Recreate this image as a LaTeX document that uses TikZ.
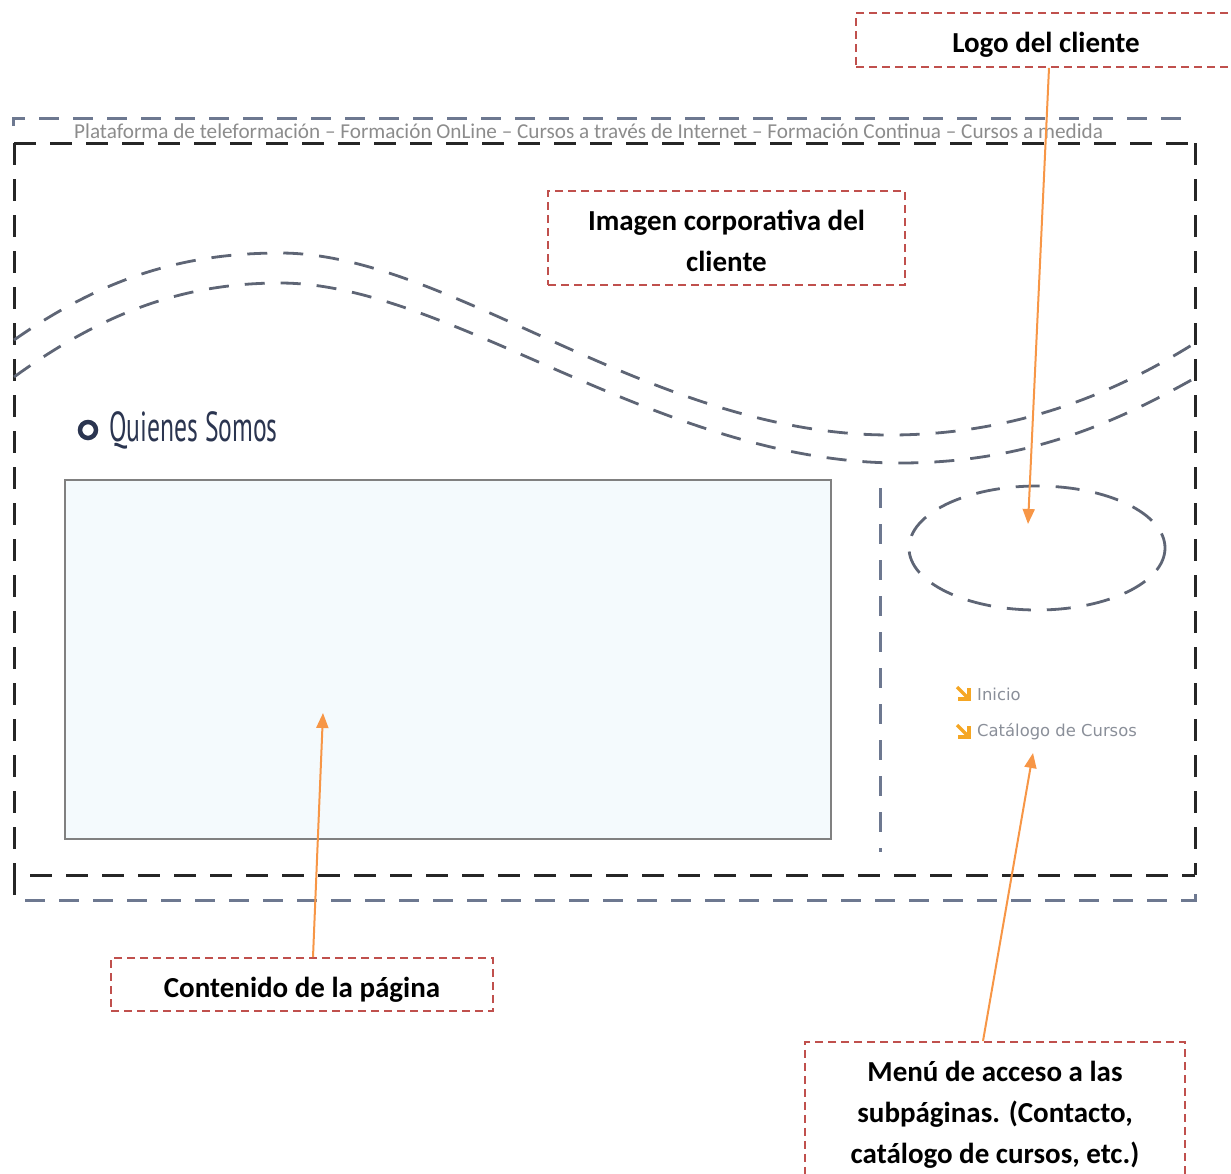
\documentclass[tikz,border=0pt]{standalone}
\usepackage{fontspec}
\setmainfont{Carlito}
\newfontfamily\qfont{PT Sans}
\newfontfamily\menufont{DejaVu Sans}
\usetikzlibrary{arrows.meta}
\definecolor{callred}{HTML}{C0504D}
\definecolor{callorange}{HTML}{F79646}
\definecolor{wavegray}{HTML}{5E6575}
\definecolor{framegray}{HTML}{6D7890}
\definecolor{boxfill}{HTML}{F4FAFD}
\definecolor{navy}{HTML}{2B3550}
\definecolor{headgray}{HTML}{8C8C8C}
\definecolor{menugray}{HTML}{8A8F99}
\definecolor{iconorange}{HTML}{F5A623}
\newcommand{\calltext}[2][0pt]{\raisebox{#1}[\height][\depth]{\begin{tabular}{@{}c@{}}#2\end{tabular}}}
\begin{document}
\begin{tikzpicture}[x=1pt,y=-1pt,
  callout/.style={draw=callred, line width=1.8pt, dash pattern=on 8pt off 5pt, font=\fontsize{29}{41}\selectfont\bfseries, align=center, inner sep=0pt},
  blackdash/.style={draw=black!85, line width=3pt, dash pattern=on 22pt off 14pt},
  graydash/.style={draw=framegray, line width=3pt, dash pattern=on 20pt off 14pt},
  wavedash/.style={draw=wavegray, line width=2.8pt, dash pattern=on 20pt off 16pt},
  pointer/.style={draw=callorange, line width=2pt, -{Triangle[length=15pt,width=12pt]}},
  menuitem/.style={font=\menufont\fontsize{16.4}{18}\selectfont, text=menugray, anchor=west, inner sep=0pt},
  icon/.style={draw=iconorange, line width=3.2pt}
]
\useasboundingbox (0,0) rectangle (1231,1173);
% frame
\draw[graydash] (13,126) -- (13,118) -- (1192,118);
\draw[blackdash] (14,143) -- (1195,143);
\draw[blackdash] (14,143) -- (14,875);
\draw[blackdash] (1195,143) -- (1195,875);
\draw[blackdash] (14,895) -- (14,875) -- (1195,875);
\draw[graydash] (25,900) -- (1195,900) -- (1195,882);
% header text
\node[font=\fontsize{21.2}{22}\selectfont, text=headgray, anchor=west, inner sep=0pt] (header) at (74,131) {Plataforma de teleformación – Formación OnLine – Cursos a través de Internet – Formación Continua – Cursos a medida};
% waves
\draw[wavedash] (14,340) .. controls (100,280) and (180,253) .. (280,253) .. controls (450,253) and (650,435) .. (890,435) .. controls (1020,435) and (1120,390) .. (1195,343);
\draw[wavedash] (14,377) .. controls (100,315) and (180,283) .. (280,283) .. controls (450,283) and (660,463) .. (900,463) .. controls (1030,463) and (1120,420) .. (1195,378);
% title
\node[draw=navy, line width=4.5pt, circle, minimum size=16pt, inner sep=0pt] (bullet) at (88,430) {};
\node[anchor=west, inner sep=0pt, text=navy] (title) at (109,430) {\scalebox{0.61}[1]{\qfont\fontsize{42}{46}\selectfont Quienes Somos}};
% content box
\node[draw=gray, line width=1.8pt, fill=boxfill, minimum width=766pt, minimum height=359pt, inner sep=0pt, anchor=north west] (content) at (64,479) {};
% separator
\draw[graydash, dash pattern=on 20pt off 16pt] (880,488) -- (880,852);
% logo ellipse
\draw[wavedash, dash pattern=on 24pt off 16pt] (1037,548) ellipse [x radius=128, y radius=62];
\coordinate (logospot) at (1028,524);
% menu
\draw[icon] (957,687) -- (969,699);
\draw[icon] (969,688) -- (969,699) -- (958,699);
\node[menuitem] (inicio) at (977,694) {Inicio};
\draw[icon] (957,725) -- (969,737);
\draw[icon] (969,726) -- (969,737) -- (958,737);
\node[menuitem] (catalogo) at (977,732) {Catálogo de Cursos};
% callouts
\node[callout, minimum width=380pt, minimum height=54pt] (logo) at (1046,40) {\calltext[-4pt]{Logo del cliente}};
\node[callout, minimum width=357pt, minimum height=94pt] (imagen) at (726.5,238) {\calltext[-5pt]{Imagen corporativa del\\cliente}};
\node[callout, minimum width=382pt, minimum height=53pt] (contenido) at (302,984.5) {\calltext[-5pt]{Contenido de la página}};
\node[callout, minimum width=380pt, minimum height=142pt, anchor=north] (menu) at (995,1041) {\calltext[-1pt]{Menú de acceso a las\\subpáginas. (Contacto,\\catálogo de cursos, etc.)}};
% pointers
\draw[pointer] ([xshift=3pt]logo.south) -- (logospot);
\draw[pointer] ([xshift=11pt]contenido.north) -- (323,713);
\draw[pointer] ([xshift=-12pt]menu.north) -- (1033,753);
\end{tikzpicture}
\end{document}
